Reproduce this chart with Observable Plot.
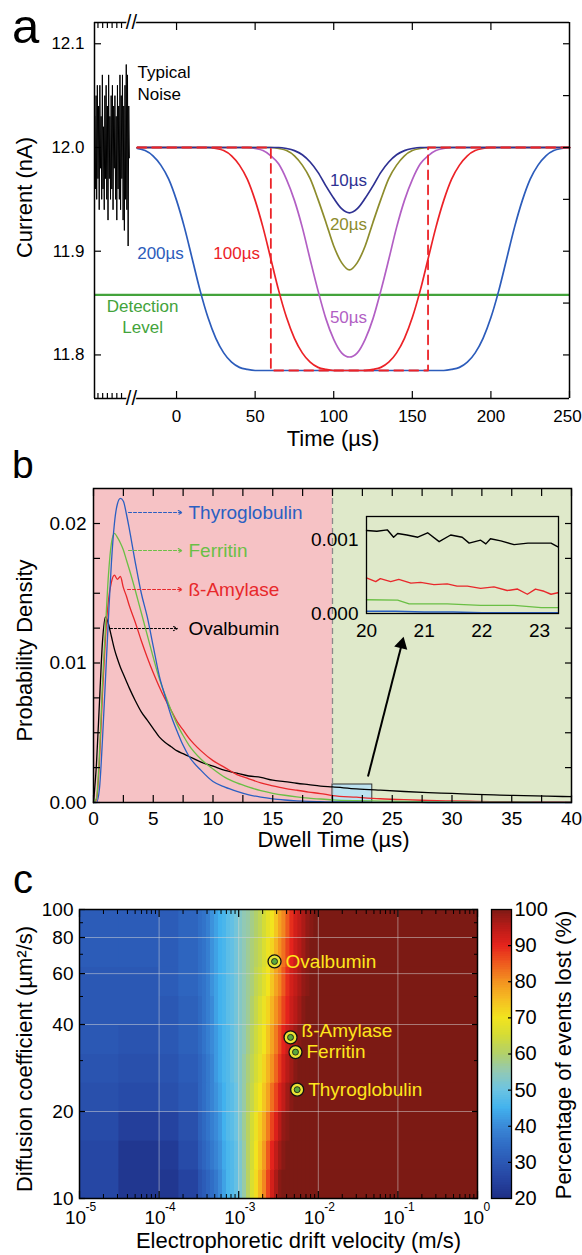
<!DOCTYPE html>
<html>
<head>
<meta charset="utf-8">
<script src="https://cdn.jsdelivr.net/npm/d3@7"></script>
<script src="https://cdn.jsdelivr.net/npm/@observablehq/plot@0.6"></script>
<style>
html,body{margin:0;padding:0;background:#fff;}
#fig{position:relative;width:582px;height:1255px;overflow:hidden;font-family:"Liberation Sans",Arial,Helvetica,sans-serif;}
.layer{position:absolute;left:0;}
.letter{position:absolute;line-height:1;color:#000;font-family:"Liberation Sans",Arial,Helvetica,sans-serif;}
</style>
</head>
<body>
<div id="fig">
  <div class="letter" style="left:12px;top:2px;font-size:49px;">a</div>
  <div class="letter" style="left:12px;top:445px;font-size:39px;">b</div>
  <div class="letter" style="left:13px;top:859px;font-size:40px;">c</div>
</div>
<script>
// ================= DATA =================
// ---- Panel a: simulated current traces ----
const noiseTime = [-52,-51.6,-51.2,-50.8,-50.4,-50,-49.6,-49.2,-48.8,-48.4,-48,-47.6,-47.2,-46.8,-46.4,-46,-45.6,-45.2,-44.8,-44.4,-44,-43.6,-43.2,-42.8,-42.4,-42,-41.6,-41.2,-40.8,-40.4,-40,-39.6,-39.2,-38.8,-38.4,-38,-37.6,-37.2,-36.8,-36.4,-36,-35.6,-35.2,-34.8,-34.4,-34,-33.6,-33.2,-32.8,-32.4,-32,-31.6,-31.2,-30.8,-30.4,-30];
const noiseCurrent = [12.03,11.96,12.05,11.95,12.06,11.97,12.04,11.94,12.06,11.98,
  12.03,11.95,12.07,11.96,12.02,11.94,12.05,11.97,12.06,11.95,
  12.04,11.93,12.07,11.97,12.03,11.95,12.05,11.96,12.06,11.94,
  12.04,11.98,12.05,11.95,12.03,11.93,12.06,11.96,12.04,11.95,
  12.07,11.94,12.05,11.97,12.07,11.93,12.04,11.92,12.06,11.95,
  12.08,11.94,12.07,11.905,12.04,11.99];
const timeA = [-25,-20,-15,-10,-5,0,5,10,15,20,25,30,35,40,45,50,55,60,65,70,75,80,85,90,95,100,105,110,115,120,125,130,135,140,145,150,155,160,165,170,175,180,185,190,195,200,205,210,215,220,225,230,235,240,245,250];
const current200us = [11.999,11.997,11.992,11.983,11.9695,11.949,11.923,11.8925,11.862,11.836,11.816,11.802,11.793,11.788,11.786,
  11.785,11.785,11.785,11.785,11.785, 11.785,11.785,11.785,11.785,11.785, 11.785,11.785,11.785,11.785,11.785, 11.785,11.785,11.785,11.785,11.785, 11.785,11.785,11.785,11.785,11.785,
  11.786,11.788,11.793,11.802,11.816,11.836,11.862,11.8925,11.923,11.949,11.9695,11.983,11.992,11.997,11.999,12.0];
const current100us = [12,12,12,12,12,12,12,12,12,12,
  11.999,11.997,11.992,11.983,11.9695,11.949,11.923,11.8925,11.862,11.836,11.816,11.802,11.793,11.788,11.786,
  11.785,11.785,11.785,11.785,11.785,
  11.786,11.788,11.793,11.802,11.816,11.836,11.862,11.8925,11.923,11.949,11.9695,11.983,11.992,11.997,11.999,
  12,12,12,12,12,12,12,12,12,12,12];
const current50us = [12,12,12,12,12,12,12,12,12,12,12,12,12,12,12,
  11.999,11.997,11.992,11.984,11.969,11.949,11.923,11.892,11.862,11.835,11.815,11.802,11.798,11.802,11.815,11.835,11.862,11.892,11.923,11.949,11.969,11.984,11.992,11.997,11.999,
  12,12,12,12,12,12,12,12,12,12,12,12,12,12,12,12];
const current20us = [12,12,12,12,12,12,12,12,12,12,12,12,12,12,12,12,12,12,
  11.999,11.997,11.992,11.983,11.970,11.950,11.928,11.905,11.889,11.882,11.889,11.905,11.928,11.950,11.970,11.983,11.992,11.997,11.999,
  12,12,12,12,12,12,12,12,12,12,12,12,12,12,12,12,12,12,12];
const current10us = [12,12,12,12,12,12,12,12,12,12,12,12,12,12,12,12,12,12,12,
  11.999,11.997,11.993,11.986,11.976,11.963,11.951,11.941,11.937,11.941,11.951,11.963,11.976,11.986,11.993,11.997,11.999,
  12,12,12,12,12,12,12,12,12,12,12,12,12,12,12,12,12,12,12,12];
const pulseTime = [-25, 60, 60, 160, 160, 250];
const pulseCurrent = [12, 12, 11.785, 11.785, 12, 12];
const detectionLevel = [11.858];
const timeTicks = [0, 50, 100, 150, 200, 250];
const noiseTicks = [-50, -47, -44, -41, -38, -35];
const currentTicks = [11.8, 11.9, 12.0, 12.1];
const currentTicksRight = [11.8, 11.85, 11.9, 11.95, 12.0, 12.05, 12.1];

// ---- Panel b: dwell time distributions ----
const dwellTime = [0,0.25,0.5,0.75,1,1.25,1.5,1.75,2,2.25,2.5,2.75,3, 3.5,4,4.5,5,5.5,6,6.5,7,7.5,8, 9,10,11,12,13,14,15,16,17,18,19,20, 22,24,26,28,30,32,34,36,38,40];
const pdfThyroglobulin = [0,0,0.001,0.0045,0.0088,0.0132,0.0172,0.0200,0.0214,0.0218,0.0216,0.0207,0.0196,
  0.0172,0.0150,0.0133,0.0112,0.0091,0.0076,0.0062,0.0051,0.0041,0.0033,
  0.0023,0.0015,0.0011,0.0008,0.00055,0.00038,0.00026,0.00018,0.00012,0.00008,0.00006,0.00004,
  0.00002,0.00001,0.00001,0,0,0,0,0,0,0];
const pdfFerritin = [0,0.0003,0.0035,0.0085,0.0125,0.0163,0.0186,0.0193,0.0190,0.0186,0.0181,0.0174,0.0167,
  0.0152,0.0136,0.0120,0.0104,0.0089,0.0077,0.0066,0.0056,0.0048,0.0041,
  0.0031,0.0024,0.0018,0.0014,0.0011,0.00085,0.00066,0.00052,0.00041,0.00032,0.00025,0.00019,
  0.00013,0.0001,0.00007,0.00005,0.00004,0.00003,0.00002,0.00002,0.00001,0.00001];
const pdfAmylase = [0,0.0002,0.003,0.0078,0.0118,0.0145,0.0158,0.0163,0.0160,0.0162,0.0154,0.0148,0.0141,
  0.0129,0.0116,0.0104,0.0093,0.0083,0.0074,0.0066,0.0058,0.0052,0.0046,
  0.0037,0.0030,0.0025,0.0020,0.0017,0.0014,0.0012,0.00102,0.00088,0.00075,0.00064,0.0005,
  0.00038,0.00027,0.0002,0.00015,0.00011,0.00008,0.00006,0.00005,0.00004,0.00003];
const pdfOvalbumin = [0,0.0028,0.0072,0.0115,0.0133,0.0128,0.0119,0.0110,0.0103,0.0097,0.0092,0.0087,0.0082,
  0.0073,0.0065,0.0059,0.0053,0.0047,0.0043,0.0040,0.0037,0.0035,0.0033,
  0.0029,0.0026,0.0023,0.0021,0.0019,0.0018,0.0016,0.0015,0.00138,0.00128,0.00118,0.00112,
  0.00098,0.00088,0.00079,0.00071,0.00065,0.00058,0.00053,0.00049,0.00045,0.00042];
const regionStart = [0, 20];
const regionEnd = [20, 40];
// inset (zoom of 20-23.3 µs)
const insetTimeOval = [20.0,20.18,20.36,20.47,20.54,20.7,20.89,21.06,21.26,21.46,21.66,21.78,21.98,22.07,22.15,22.33,22.56,22.8,23.03,23.2,23.32];
const insetOval = [0.00112,0.00111,0.00113,0.00103,0.00108,0.00106,0.00103,0.00109,0.00097,0.00106,0.00103,0.00095,0.00099,0.00094,0.00101,0.00098,0.00093,0.00095,0.00095,0.00095,0.0009];
const insetTimeAmyl = [20.0,20.16,20.24,20.42,20.56,20.77,20.94,21.17,21.4,21.57,21.75,21.98,22.21,22.44,22.62,22.79,22.93,23.08,23.2,23.32];
const insetAmyl = [0.00048,0.00043,0.00047,0.00043,0.00046,0.00041,0.00042,0.00039,0.0004,0.00037,0.00037,0.00034,0.00036,0.00031,0.00033,0.00026,0.00033,0.0003,0.00026,0.00028];
const insetTimeFerr = [20.0,20.54,20.74,21.4,21.98,22.56,23.03,23.32];
const insetFerr = [0.000185,0.00018,0.00013,0.00013,0.00011,0.00011,0.00008,0.00008];
const insetTimeThyro = [20,20.5,21,21.5,22,22.5,23,23.32];
const insetThyro = [0.00003,0.00003,0.00002,0.00002,0.00001,0.00001,0.00001,0.00001];

// ---- Panel c: percentage of events lost ----
const velocityEdgeExp = [-5,-4.5,-4,-3.75,-3.5,-3.45,-3.4,-3.35,-3.3,-3.25,-3.2,-3.15,-3.1,-3.05,-3,-2.95,-2.9,-2.85,-2.8,-2.75,-2.7,-2.65,-2.6,-2.55,-2.5,-2.45,-2.4,-2.35,-2.3,-2.25,-2.2,-2.15,-2.1,-2.05,-2,-1,0];
const diffusionEdges = [10,12.59,15.85,19.95,25.12,31.62,39.81,50.12,63.1,79.43,100];
const eventsLost = [ // rows from D=10 (bottom) to D=100 (top)
  [26,22,22,25, 29,31,33,35,37, 40,43,46,47,49, 52,56,61,66,71, 76,81,87,92,96, 99,100,100,100,100, 100,100,100,100,100, 100,100],
  [26,22,23,27, 31,33,35,37,39, 41,44,46,47,49, 52,56,61,65,70, 74,79,85,90,94, 97,99,100,100,100, 100,100,100,100,100, 100,100],
  [27,24,25,28, 32,34,36,38,40, 42,45,47,48,50, 53,57,61,65,69, 73,77,82,87,91, 95,98,99,100,100, 100,100,100,100,100, 100,100],
  [28,27,28,30, 33,35,37,39,41, 43,45,47,48,50, 53,56,60,63,67, 70,74,78,83,87, 91,94,97,99,100, 100,100,100,100,100, 100,100],
  [29,28,29,31, 33,35,37,39,42, 44,46,47,49,51, 53,56,59,62,65, 68,72,76,80,84, 88,92,95,97,99, 100,100,100,100,100, 100,100],
  [30,29,30,32, 34,36,38,40,42, 44,46,47,49,51, 53,55,58,61,64, 67,70,74,78,82, 86,90,93,95,97, 99,100,100,100,100, 100,100],
  [30,30,30,32, 34,36,38,40,43, 45,46,48,49,51, 53,55,57,60,63, 66,69,72,76,80, 83,87,90,93,95, 97,99,100,100,100, 100,100],
  [30,30,31,33, 35,36,38,41,43, 45,46,48,49,51, 53,55,57,59,62, 64,67,70,74,78, 81,85,89,92,94, 96,98,99,100,100, 100,100],
  [31,31,31,33, 35,36,38,41,43, 45,46,48,49,51, 53,55,57,59,61, 63,66,69,72,76, 80,83,87,90,93, 95,97,99,100,100, 100,100],
  [31,31,31,33, 35,36,38,41,43, 45,46,48,49,51, 53,55,56,58,60, 62,65,68,70,74, 78,81,85,89,92, 94,96,98,99,100, 100,100]
];
const proteinNames = ["Ovalbumin", "ß-Amylase", "Ferritin", "Thyroglobulin"];
const proteinVelocity = [0.00282, 0.00448, 0.00517, 0.00543];
const proteinDiffusion = [66.1, 36.1, 32.1, 23.8];
const velocityDecades = [1e-5, 1e-4, 1e-3, 1e-2, 1e-1, 1];
const diffusionLabels = [10, 20, 40, 60, 80, 100];
const percentLabels = [20, 30, 40, 50, 60, 70, 80, 90, 100];

// ================= STYLE =================
const FONT = '"Liberation Sans", Arial, Helvetica, sans-serif';
const NAVY = "#2e3192", OLIVE = "#8d8c2c", PURPLE = "#b25fc4", RED = "#ec2227", BLUE = "#2c5cbb", GREEN = "#43a33b";
const BLUE_B = "#2a5fc2", GREEN_B = "#6abf45", RED_B = "#e8282b";
const PINK = "#f6c2c5", LGREEN = "#dfe9ca", BOX = "#bce2ef";
const colorStops = [20,25,30,35,40,45,50,55,60,65,70,75,80,85,90,95,100];
const colorRamp = ["#1e2f86","#2543a0","#2b58b4","#306ec6","#3a8ad8","#42b2ee","#6cc4e2","#92c9b4","#b2d06a","#d4dc36","#f2e41e","#f5bd22","#f39220","#ee5a1e","#e4231c","#b81b18","#7c1a14"];
const baseStyle = {fontFamily: FONT, background: "transparent", overflow: "visible", color: "#000"};

const fig = document.getElementById("fig");
function place(svg, top) {
  const d = document.createElement("div");
  d.className = "layer";
  d.style.top = top + "px";
  d.appendChild(svg);
  fig.appendChild(d);
}
const tickIn = (dir, anchor, ticks, size, sw = 1.2) => {
  const o = {anchor, ticks, tickSize: size, fill: "none", label: null, strokeWidth: sw};
  if (anchor === "top") o.insetTop = size;
  if (anchor === "bottom") o.insetBottom = size;
  if (anchor === "left") o.insetLeft = size;
  if (anchor === "right") o.insetRight = size;
  return dir === "x" ? Plot.axisX(o) : Plot.axisY(o);
};
const titleLeft = (t, dx, dy) => Plot.text([t], {frameAnchor: "left", dx, dy, rotate: -90, text: d => d, textAnchor: "middle", lineAnchor: "middle", fontSize: 22});
const titleRight = (t, dx, dy) => Plot.text([t], {frameAnchor: "right", dx, dy, rotate: -90, text: d => d, textAnchor: "middle", lineAnchor: "middle", fontSize: 22});
const titleBottom = (t, dx, dy) => Plot.text([t], {frameAnchor: "bottom", dx, dy, text: d => d, textAnchor: "middle", lineAnchor: "middle", fontSize: 22});

// ================= PANEL a =================
const yTopA = 12.1205, yBotA = 11.758, xLA = -52.2, xRA = 250;
const lineA = (y, stroke) => Plot.line(timeA, {x: timeA, y, stroke, strokeWidth: 1.7, curve: "monotone-x"});
const pa = Plot.plot({
  width: 582, height: 452,
  marginLeft: 94, marginRight: 13, marginTop: 22, marginBottom: 54,
  style: baseStyle,
  x: {domain: [xLA, xRA]},
  y: {domain: [yBotA, yTopA]},
  marks: [
    Plot.ruleY(detectionLevel, {stroke: GREEN, strokeWidth: 2.2}),
    Plot.line(noiseCurrent, {x: noiseTime, y: noiseCurrent, stroke: "#000", strokeWidth: 1}),
    lineA(current200us, BLUE),
    lineA(current100us, RED),
    lineA(current50us, PURPLE),
    lineA(current20us, OLIVE),
    lineA(current10us, NAVY),
    Plot.line(pulseCurrent, {x: pulseTime, y: pulseCurrent, stroke: RED, strokeWidth: 1.8, strokeDasharray: "9,6"}),
    // frame with axis break
    Plot.ruleX([xLA, xRA], {stroke: "#000", strokeWidth: 1.5}),
    Plot.ruleY([yTopA, yBotA], {x1: xLA, x2: -31.3, stroke: "#000", strokeWidth: 1.5}),
    Plot.ruleY([yTopA, yBotA], {x1: -26.2, x2: xRA, stroke: "#000", strokeWidth: 1.5}),
    Plot.text([yTopA, yBotA], {x: -28.7, y: d => d, text: () => "//", fontSize: 20, fill: "#000", stroke: "white", strokeWidth: 2}),
    // axes
    Plot.axisX({anchor: "bottom", ticks: timeTicks.slice(0, 5), tickSize: 0, tickPadding: 11, label: null, fontSize: 17}),
    Plot.axisX({anchor: "bottom", ticks: [250], tickSize: 0, tickPadding: 11, dx: -2, label: null, fontSize: 17}),
    tickIn("x", "bottom", timeTicks, 7),
    tickIn("x", "top", timeTicks.slice(0, 5), 7),
    tickIn("x", "top", noiseTicks, 5),
    tickIn("x", "bottom", noiseTicks, 5),
    Plot.axisY({anchor: "left", ticks: currentTicks, tickSize: 0, tickPadding: 10, tickFormat: d3.format(".1f"), label: null, fontSize: 17}),
    tickIn("y", "left", currentTicks, 7),
    tickIn("y", "right", currentTicksRight, 7),
    // axis titles
    titleLeft("Current (nA)", -70, -13),
    titleBottom("Time (µs)", 1, 40),
    // annotations
    Plot.text(["Typical", "Noise"], {x: -24.8, y: [12.0723, 12.0511], text: d => d, textAnchor: "start", fontSize: 17}),
    Plot.text(["10µs"], {x: 109.4, y: 11.968, text: d => d, fill: NAVY, fontSize: 17}),
    Plot.text(["20µs"], {x: 109.4, y: 11.926, text: d => d, fill: OLIVE, fontSize: 17}),
    Plot.text(["50µs"], {x: 109.4, y: 11.836, text: d => d, fill: PURPLE, fontSize: 17}),
    Plot.text(["200µs"], {x: -10.2, y: 11.898, text: d => d, fill: BLUE, fontSize: 17}),
    Plot.text(["100µs"], {x: 38.2, y: 11.898, text: d => d, fill: RED, fontSize: 17}),
    Plot.text(["Detection", "Level"], {x: -21.6, y: [11.8467, 11.8267], text: d => d, fill: GREEN, fontSize: 17})
  ]
});
place(pa, 0);

// ================= PANEL b =================
const yTopB = 0.02251;
const xTicksB = [0,2.5,5,7.5,10,12.5,15,17.5,20,22.5,25,27.5,30,32.5,35,37.5,40];
const yTicksB = [0,0.0025,0.005,0.0075,0.01,0.0125,0.015,0.0175,0.02];
const lineB = (y, stroke) => Plot.line(dwellTime, {x: dwellTime, y, stroke, strokeWidth: 1.3, curve: "monotone-x"});
const labelArrow = (name, x1, x2, y, color, dash) => [
  Plot.arrow([name], {x1, x2, y1: y, y2: y, stroke: color, strokeWidth: 1.1, strokeDasharray: dash, headLength: 6, headAngle: 55}),
  Plot.text([name], {x: 7.95, y, text: d => d, textAnchor: "start", fill: color, fontSize: 19})
];
const pb = Plot.plot({
  width: 582, height: 400,
  marginLeft: 93, marginRight: 11, marginTop: 36, marginBottom: 50,
  style: baseStyle,
  x: {domain: [0, 40]},
  y: {domain: [0, yTopB]},
  marks: [
    Plot.rect([regionStart[0]], {x1: regionStart[0], x2: regionEnd[0], y1: 0, y2: yTopB, fill: PINK}),
    Plot.rect([regionStart[1]], {x1: regionStart[1], x2: regionEnd[1], y1: 0, y2: yTopB, fill: LGREEN}),
    Plot.rect([0], {x1: 20, x2: 23.33, y1: 0, y2: 0.00129, fill: BOX, stroke: "#333", strokeWidth: 1}),
    Plot.ruleX([20], {stroke: "#8a8a8a", strokeDasharray: "6,4", strokeWidth: 1.3}),
    lineB(pdfOvalbumin, "#000"),
    lineB(pdfAmylase, RED_B),
    lineB(pdfFerritin, GREEN_B),
    lineB(pdfThyroglobulin, BLUE_B),
    Plot.frame({stroke: "#000", strokeWidth: 1.5}),
    Plot.axisX({anchor: "bottom", ticks: [0,5,10,15,20,25,30,35,40], tickSize: 0, tickPadding: 9, label: null, fontSize: 19}),
    tickIn("x", "bottom", xTicksB, 7),
    tickIn("x", "top", xTicksB, 7),
    Plot.axisY({anchor: "left", ticks: [0, 0.01, 0.02], tickSize: 0, tickPadding: 7, tickFormat: d3.format(".2f"), label: null, fontSize: 19}),
    tickIn("y", "left", yTicksB, 7),
    tickIn("y", "right", yTicksB, 7),
    titleLeft("Probability Density", -69, 5),
    titleBottom("Dwell Time (µs)", 1, 37),
    ...labelArrow("Thyroglobulin", 2.93, 7.42, 0.02079, BLUE_B, "3,2"),
    ...labelArrow("Ferritin", 2.93, 7.42, 0.01806, GREEN_B, "3,2"),
    ...labelArrow("ß-Amylase", 2.85, 7.42, 0.01527, RED_B, "3,2"),
    ...labelArrow("Ovalbumin", 1.42, 7.03, 0.01247, "#000", "2,2"),
    Plot.link([0], {x1: 22.97, y1: 0.00186, x2: 25.73, y2: 0.01113, stroke: "#000", strokeWidth: 2}),
    Plot.dot([0], {x: 25.79, y: 0.01134, symbol: "triangle", r: 5, fill: "#000", rotate: 14.3})
  ]
});
place(pb, 452);

// inset
const pi = Plot.plot({
  width: 582, height: 400,
  marginLeft: 366, marginRight: 24, marginTop: 64, marginBottom: 239,
  style: baseStyle,
  x: {domain: [20, 23.33]},
  y: {domain: [0, 0.00131]},
  marks: [
    Plot.line(insetOval, {x: insetTimeOval, y: insetOval, stroke: "#000", strokeWidth: 1.4}),
    Plot.line(insetAmyl, {x: insetTimeAmyl, y: insetAmyl, stroke: RED_B, strokeWidth: 1.4}),
    Plot.line(insetFerr, {x: insetTimeFerr, y: insetFerr, stroke: GREEN_B, strokeWidth: 1.4}),
    Plot.line(insetThyro, {x: insetTimeThyro, y: insetThyro, stroke: BLUE_B, strokeWidth: 1.4}),
    Plot.frame({stroke: "#000", strokeWidth: 1.3}),
    Plot.axisX({anchor: "bottom", ticks: [20, 21, 22, 23], tickSize: 0, tickPadding: 10, tickFormat: d3.format("d"), label: null, fontSize: 19}),
    Plot.axisY({anchor: "left", ticks: [0, 0.001], tickSize: 0, tickPadding: 8, tickFormat: d3.format(".3f"), label: null, fontSize: 19})
  ]
});
place(pi, 452);

// ================= PANEL c =================
const heatCells = [];
diffusionEdges.slice(0, -1).forEach((d0, r) => {
  velocityEdgeExp.slice(0, -1).forEach((e0, j) => {
    heatCells.push({x1: 10 ** e0, x2: 10 ** velocityEdgeExp[j + 1], y1: d0, y2: diffusionEdges[r + 1], pct: eventsLost[r][j]});
  });
});
const logTicks = d3.scaleLog().domain([1e-5, 1]).ticks();
const velocityMinor = logTicks.filter(v => Math.abs(Math.log10(v) - Math.round(Math.log10(v))) > 1e-6);
const diffusionMinor = [30, 50, 70, 90];
const proteinLabel = (keep, dy) => Plot.text(proteinNames, {x: proteinVelocity, y: proteinDiffusion, filter: keep, text: d => d, dx: 11, dy, textAnchor: "start", fill: "#ffe61c", fontSize: 19});
const pc = Plot.plot({
  width: 582, height: 403,
  marginLeft: 79, marginRight: 105, marginTop: 57, marginBottom: 57,
  style: baseStyle,
  x: {type: "log", domain: [1e-5, 1]},
  y: {type: "log", domain: [10, 100]},
  color: {type: "linear", domain: colorStops, range: colorRamp},
  marks: [
    Plot.rect(heatCells, {x1: "x1", x2: "x2", y1: "y1", y2: "y2", fill: "pct", stroke: "pct", strokeWidth: 0.6, shapeRendering: "crispEdges"}),
    Plot.ruleX([1e-4, 1e-3, 1e-2, 1e-1], {stroke: "#d8d8d8", strokeOpacity: 0.5, strokeWidth: 1}),
    Plot.ruleY([20, 40, 60, 80], {stroke: "#d8d8d8", strokeOpacity: 0.5, strokeWidth: 1}),
    Plot.frame({stroke: "#000", strokeWidth: 1.5}),
    tickIn("x", "bottom", velocityDecades, 7),
    tickIn("x", "top", velocityDecades, 7),
    tickIn("x", "bottom", velocityMinor, 4, 1),
    tickIn("x", "top", velocityMinor, 4, 1),
    tickIn("y", "left", diffusionLabels, 6),
    tickIn("y", "right", diffusionLabels, 6),
    tickIn("y", "left", diffusionMinor, 4, 1),
    tickIn("y", "right", diffusionMinor, 4, 1),
    Plot.axisY({anchor: "left", ticks: diffusionLabels, tickSize: 0, tickPadding: 6, label: null, fontSize: 19}),
    Plot.text(velocityDecades, {x: d => d, frameAnchor: "bottom", dy: 19, dx: -4, text: () => "10", lineAnchor: "middle", textAnchor: "middle", fontSize: 19}),
    Plot.text(velocityDecades, {x: d => d, frameAnchor: "bottom", dy: 9, dx: 6, text: d => String(Math.round(Math.log10(d))), lineAnchor: "middle", textAnchor: "start", fontSize: 12}),
    titleLeft("Diffusion coefficient (µm²/s)", -55, 5),
    titleBottom("Electrophoretic drift velocity (m/s)", 20, 42),
    Plot.dot(proteinNames, {x: proteinVelocity, y: proteinDiffusion, r: 6.5, fill: "#e9e635", stroke: "#111", strokeWidth: 1.3}),
    Plot.dot(proteinNames, {x: proteinVelocity, y: proteinDiffusion, r: 3, fill: "#59a83d", stroke: "#111", strokeWidth: 0.8}),
    proteinLabel(d => d === "ß-Amylase", -6),
    proteinLabel(d => d !== "ß-Amylase", 0)
  ]
});
place(pc, 852);

// colour bar
const barLevels = d3.range(20, 100, 0.5);
const pcb = Plot.plot({
  width: 582, height: 403,
  marginLeft: 491, marginRight: 71, marginTop: 57, marginBottom: 57,
  style: baseStyle,
  x: {domain: [0, 1], axis: null},
  y: {domain: [20, 100]},
  color: {type: "linear", domain: colorStops, range: colorRamp},
  marks: [
    Plot.rect(barLevels, {x1: 0, x2: 1, y1: d => d, y2: d => d + 0.5, fill: d => d + 0.25, shapeRendering: "crispEdges"}),
    Plot.frame({stroke: "#000", strokeWidth: 1.3}),
    Plot.axisY({anchor: "right", ticks: percentLabels, tickSize: 0, tickPadding: 3, label: null, fontSize: 20}),
    tickIn("y", "right", percentLabels.slice(1, -1), 4),
    titleRight("Percentage of events lost (%)", 52, 1)
  ]
});
place(pcb, 852);
</script>
</body>
</html>
